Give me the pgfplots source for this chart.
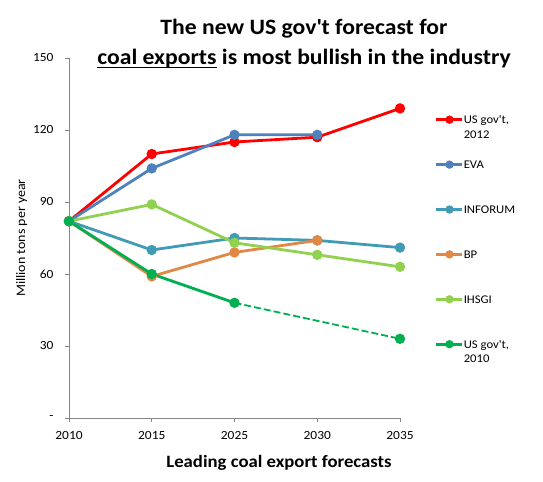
\documentclass[border=0pt]{standalone}
\usepackage{pgfplots}
\pgfplotsset{compat=1.18}
\usepackage{fontspec}
\setmainfont[FakeStretch=1.08]{Carlito}
\definecolor{cUS12}{RGB}{255,0,0}
\definecolor{cEVA}{RGB}{79,129,189}
\definecolor{cINF}{RGB}{65,155,180}
\definecolor{cBP}{RGB}{226,136,70}
\definecolor{cIHS}{RGB}{146,208,80}
\definecolor{cUS10}{RGB}{0,176,80}
\definecolor{axgray}{RGB}{134,134,134}
\newcommand{\myul}[1]{{\setbox0\hbox{#1}\rlap{\rule[-3.5bp]{\wd0}{1.6bp}}\box0}}
\newcommand{\myent}[1]{\smash{\parbox[t]{80bp}{\raggedright #1}}}
\begin{document}
\begin{tikzpicture}
\useasboundingbox (-69bp,-64bp) rectangle (474bp,418bp);
\begin{axis}[
  at={(0,0)}, anchor=south west,
  scale only axis, width=331bp, height=360bp,
  xmin=0, xmax=4, ymin=0, ymax=150,
  clip=false,
  axis x line*=bottom, axis y line*=left,
  axis line style={draw=axgray, line width=0.8bp, -},
  tick style={draw=axgray, line width=0.8bp},
  tick align=outside, major tick length=4bp,
  xtick={0,1,2,3,4}, xticklabels={2010,2015,2025,2030,2035},
  ytick={0,30,60,90,120,150}, yticklabels={-,30,60,90,120,150},
  ticklabel style={font=\fontsize{12.5}{15}\selectfont},
  xticklabel style={yshift=-6bp},
  yticklabel style={xshift=-8bp},
  /pgf/number format/assume math mode=true,
  xlabel={\bfseries Leading coal export forecasts},
  xlabel style={font=\fontsize{17.4}{20}\selectfont, at={(axis description cs:210/331,0)}, anchor=base, yshift=-49bp},
  ylabel={Million tons per year},
  ylabel style={font=\fontsize{13}{15}\selectfont, at={(axis description cs:-44/331,0.5)}, anchor=base},
  every axis plot/.append style={line width=2.8bp, mark=*, mark size=3.7bp},
  legend style={at={(axis description cs:366/331,308.5/360)}, anchor=north west, draw=none, fill=none,
    inner sep=0pt, row sep=0pt, column sep=0bp, font=\fontsize{11.8}{14.5}\selectfont,
    nodes={inner sep=0pt, text height=14bp, text depth=30.9bp},
    cells={anchor=base west}},
  legend image code/.code={\draw[yshift=4bp, mark repeat=2,mark phase=2,mark size=2.8bp,line width=2.6bp] plot coordinates {(0bp,0bp) (13bp,0bp) (26bp,0bp)};},
]
\addplot[cUS12, mark options={fill=cUS12}] coordinates {(0,82) (1,110) (2,115) (3,117) (4,129)};
\addlegendentry{\myent{US gov\textquotesingle t,\\2012}}
\addplot[cEVA, mark options={fill=cEVA}] coordinates {(0,82) (1,104) (2,118) (3,118)};
\addlegendentry{\myent{EVA}}
\addplot[cINF, mark options={fill=cINF}] coordinates {(0,82) (1,70) (2,75) (3,74) (4,71)};
\addlegendentry{\myent{INFORUM}}
\addplot[cBP, mark options={fill=cBP}] coordinates {(0,82) (1,59) (2,69) (3,74)};
\addlegendentry{\myent{BP}}
\addplot[cIHS, mark options={fill=cIHS}] coordinates {(0,82) (1,89) (2,73) (3,68) (4,63)};
\addlegendentry{\myent{IHSGI}}
\addplot[cUS10, mark options={fill=cUS10}] coordinates {(0,82) (1,60) (2,48)};
\addlegendentry{\myent{US gov\textquotesingle t,\\2010}}
\addplot[cUS10, dash pattern=on 7bp off 3bp, line width=1.8bp, mark indices={2}, mark options={solid, fill=cUS10, line width=2.8bp}, forget plot] coordinates {(2,48) (4,33)};
\end{axis}
\node[font=\bfseries\fontsize{22}{30}\selectfont, anchor=base] at (235bp,383bp) {The new US gov\textquotesingle t forecast for};
\node[font=\bfseries\fontsize{22}{30}\selectfont, anchor=base] at (235bp,353bp) {\myul{coal exports} is most bullish in the industry};
\end{tikzpicture}
\end{document}
